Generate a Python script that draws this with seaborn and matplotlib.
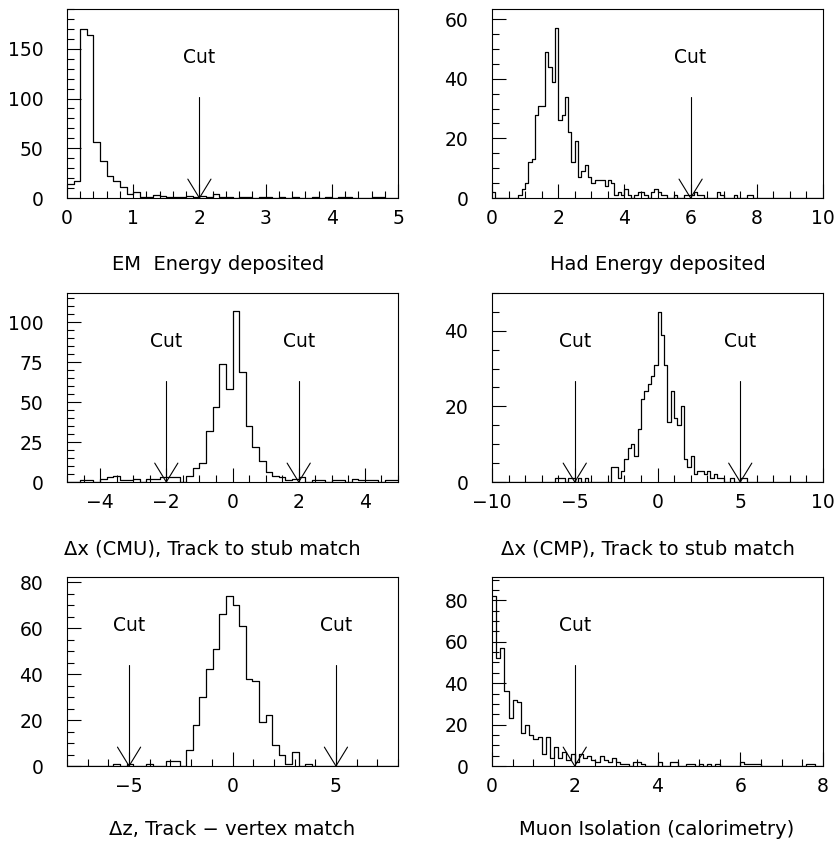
import numpy as np
import pandas as pd
import matplotlib
matplotlib.use("Agg")
import matplotlib.pyplot as plt
import seaborn as sns
from matplotlib.ticker import MultipleLocator
from matplotlib.transforms import blended_transform_factory

# ---------------- data (bin counts) ----------------
titles = ["EM  Energy deposited", "Had Energy deposited",
          "\u0394x (CMU), Track to stub match", "\u0394x (CMP), Track to stub match",
          "\u0394z, Track \u2212 vertex match", "Muon Isolation (calorimetry)"]

# (low edge, high edge, number of bins)
bin_ranges = [(0, 5, 50), (0, 10, 100), (-5, 5, 50), (-10, 10, 100), (-8, 8, 50), (0, 8, 80)]

em_counts = [14, 17, 170, 164, 56, 37, 22, 17, 11, 4,
             6, 1, 1, 3, 2, 1, 1, 1, 2, 1,
             2, 1, 4, 1, 1, 0, 1, 1, 0, 1,
             1, 0, 1, 0, 1, 0, 0, 1, 0, 1,
             0, 1, 1, 0, 0, 0, 1, 1, 0, 0]

had_counts = [2, 0, 0, 0, 0, 0, 0, 0, 1, 3,
              5, 12, 13, 28, 31, 31, 49, 44, 39, 57,
              26, 28, 34, 22, 12, 19, 7, 9, 11, 7,
              5, 6, 6, 6, 4, 6, 5, 1, 2, 1,
              3, 1, 0, 1, 2, 2, 1, 0, 2, 3,
              2, 1, 1, 0, 0, 1, 0, 0, 1, 1,
              1, 2, 1, 1, 0, 0, 0, 0, 2, 1,
              0, 0, 0, 1, 0, 0, 0, 1, 1, 0,
              0, 0, 0, 0, 0, 0, 0, 0, 0, 0,
              0, 0, 0, 0, 0, 0, 0, 0, 0, 0]

cmu_counts = [0, 0, 1, 1, 0, 2, 3, 4, 1, 1,
              2, 0, 2, 2, 3, 3, 3, 0, 4, 9,
              12, 32, 47, 74, 58, 107, 69, 35, 22, 13,
              6, 4, 3, 1, 2, 3, 0, 1, 1, 0,
              1, 1, 0, 2, 1, 1, 1, 0, 1, 1]

cmp_counts = [0, 0, 0, 0, 0, 0, 0, 0, 0, 0,
              0, 0, 0, 0, 0, 0, 0, 0, 0, 1,
              1, 1, 0, 1, 1, 0, 1, 0, 1, 0,
              0, 0, 0, 0, 0, 0, 4, 4, 1, 3,
              6, 9, 10, 7, 14, 22, 24, 26, 28, 31,
              45, 39, 31, 16, 24, 17, 15, 20, 6, 4,
              7, 2, 3, 3, 2, 3, 1, 2, 1, 1,
              0, 0, 1, 0, 0, 1, 1, 0, 0, 0,
              0, 0, 0, 0, 0, 0, 0, 0, 0, 0,
              0, 0, 0, 0, 0, 0, 0, 0, 0, 0]

dz_counts = [0, 0, 0, 0, 0, 0, 0, 1, 0, 1,
             0, 0, 1, 0, 0, 2, 2, 0, 7, 18,
             30, 42, 51, 66, 74, 70, 61, 38, 37, 19,
             22, 9, 5, 1, 6, 0, 1, 0, 0, 0,
             0, 0, 0, 0, 0, 0, 0, 0, 0, 0]

iso_counts = [82, 52, 57, 36, 23, 32, 31, 16, 20, 15,
              13, 14, 6, 14, 4, 9, 4, 7, 3, 6,
              2, 6, 4, 5, 3, 2, 5, 3, 2, 4,
              2, 1, 1, 0, 2, 2, 1, 0, 0, 0,
              2, 0, 0, 2, 2, 0, 0, 1, 1, 0,
              1, 0, 1, 0, 1, 0, 0, 0, 0, 0,
              2, 1, 1, 1, 1, 0, 0, 0, 0, 0,
              0, 0, 0, 0, 0, 0, 1, 1, 0, 0]

all_counts = [em_counts, had_counts, cmu_counts, cmp_counts, dz_counts, iso_counts]
cut_values = [[2], [6], [-2, 2], [-5, 5], [-5, 5], [2]]
y_max = [190, 63.4, 118.4, 50, 82.2, 91.3]
y_major = [50, 20, 25, 20, 20, 20]
y_minor = [10, 5, 5, 5, 5, 5]
x_major = [1, 2, 2, 5, 5, 2]
x_minor = [0.2, 0.5, 0.5, 1, 1, 0.5]

# ---------------- style ----------------
sns.set_style("ticks")
plt.rcParams['font.family'] = ['DejaVu Sans']
plt.rcParams['axes.linewidth'] = 0.8
plt.rcParams['text.color'] = 'black'
plt.rcParams['xtick.color'] = 'black'
plt.rcParams['ytick.color'] = 'black'
plt.rcParams['axes.labelcolor'] = 'black'

W, H = 838, 846
fig = plt.figure(figsize=(W / 100, H / 100), dpi=100)

lefts = [67, 492]
bottoms = [198, 482, 766]
ax_w, ax_h = 331, 189
title_x = [0.456, 0.5, 0.44, 0.47, 0.5, 0.497]
title_off = [67, 67, 67, 67, 63, 63]

for i in range(6):
    r, c = divmod(i, 2)
    rect = [lefts[c] / W, (H - bottoms[r]) / H, ax_w / W, ax_h / H]
    ax = fig.add_axes(rect)
    lo, hi, n = bin_ranges[i]
    width = (hi - lo) / n
    centers = [lo + (k + 0.5) * width for k in range(n)]
    df = pd.DataFrame({"x": centers, "count": all_counts[i]})
    sns.histplot(data=df, x="x", weights="count", bins=n, binrange=(lo, hi),
                 element="step", fill=False, color="black", linewidth=0.9, ax=ax)
    ax.set_xlim(lo, hi)
    ax.set_ylim(0, y_max[i])
    ax.set_xlabel("")
    ax.set_ylabel("")
    ax.xaxis.set_major_locator(MultipleLocator(x_major[i]))
    ax.xaxis.set_minor_locator(MultipleLocator(x_minor[i]))
    ax.yaxis.set_major_locator(MultipleLocator(y_major[i]))
    ax.yaxis.set_minor_locator(MultipleLocator(y_minor[i]))
    ax.tick_params(which="both", direction="in", top=False, right=False,
                   color="black", labelcolor="black", width=0.8)
    ax.tick_params(which="major", length=10, labelsize=13.5)
    ax.tick_params(which="minor", length=5)
    ax.tick_params(axis="x", which="major", pad=8)
    ax.tick_params(axis="y", which="major", pad=17)
    for s in ax.spines.values():
        s.set_visible(True)
        s.set_color("black")
        s.set_linewidth(0.8)

    trans = blended_transform_factory(ax.transData, ax.transAxes)
    dx = 0.035 * (hi - lo)
    for cv in cut_values[i]:
        ax.plot([cv, cv], [0, 0.537], transform=trans, color="black", lw=0.8)
        ax.plot([cv - dx, cv, cv + dx], [0.10, 0, 0.10], transform=trans,
                color="black", lw=0.8)
        ax.text(cv, 0.746, "Cut", transform=trans, ha="center", va="center",
                fontsize=13.5, color="black")

    ax.text(title_x[i], -title_off[i] / ax_h, titles[i], transform=ax.transAxes,
            ha="center", va="center", fontsize=14, color="black")

fig.savefig("out.png", dpi=100, facecolor="white")
